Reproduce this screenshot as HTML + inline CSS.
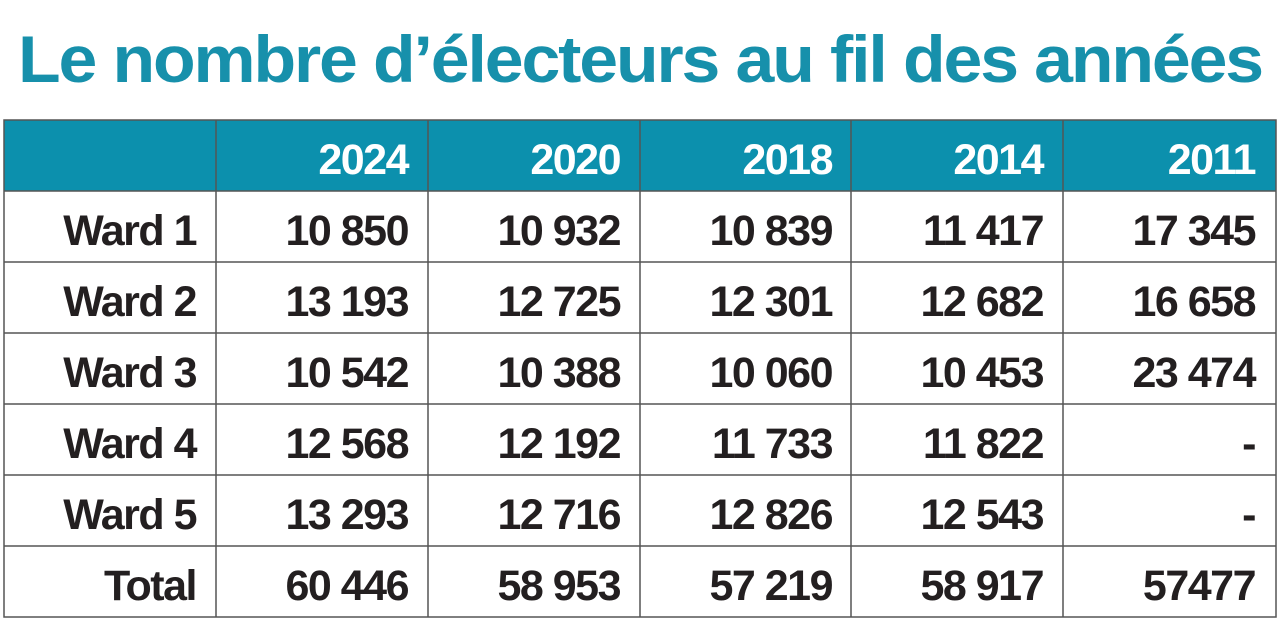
<!DOCTYPE html>
<html><head><meta charset="utf-8"><style>html,body{margin:0;padding:0;background:#fff;}</style></head>
<body>
<svg width="1280" height="626" xmlns="http://www.w3.org/2000/svg" font-family="Liberation Sans, Arial, sans-serif" font-weight="bold">
<text x="18" y="82" font-size="66" fill="#1790ab" textLength="1244" lengthAdjust="spacingAndGlyphs" letter-spacing="-2">Le nombre d’électeurs au fil des années</text>
<rect x="4" y="120" width="1272" height="71" fill="#0c90ad"/>
<g stroke="#555" stroke-width="1.5" fill="none">
<rect x="4" y="120" width="1272" height="497"/>
<line x1="216" y1="120" x2="216" y2="617"/><line x1="428" y1="120" x2="428" y2="617"/>
<line x1="640" y1="120" x2="640" y2="617"/><line x1="851" y1="120" x2="851" y2="617"/>
<line x1="1063" y1="120" x2="1063" y2="617"/>
<line x1="4" y1="191" x2="1276" y2="191"/><line x1="4" y1="262" x2="1276" y2="262"/>
<line x1="4" y1="333" x2="1276" y2="333"/><line x1="4" y1="404" x2="1276" y2="404"/>
<line x1="4" y1="475" x2="1276" y2="475"/><line x1="4" y1="546" x2="1276" y2="546"/>
</g>
<g font-size="43" text-anchor="end" letter-spacing="-1.5" fill="#fff">
<text x="408" y="174">2024</text><text x="620" y="174">2020</text><text x="832" y="174">2018</text><text x="1043" y="174">2014</text><text x="1255" y="174">2011</text>
</g>
<g font-size="43" text-anchor="end" letter-spacing="-1.5" fill="#231f20">
<text x="196" y="245">Ward 1</text><text x="408" y="245">10 850</text><text x="620" y="245">10 932</text><text x="832" y="245">10 839</text><text x="1043" y="245">11 417</text><text x="1255" y="245">17 345</text>
<text x="196" y="316">Ward 2</text><text x="408" y="316">13 193</text><text x="620" y="316">12 725</text><text x="832" y="316">12 301</text><text x="1043" y="316">12 682</text><text x="1255" y="316">16 658</text>
<text x="196" y="387">Ward 3</text><text x="408" y="387">10 542</text><text x="620" y="387">10 388</text><text x="832" y="387">10 060</text><text x="1043" y="387">10 453</text><text x="1255" y="387">23 474</text>
<text x="196" y="458">Ward 4</text><text x="408" y="458">12 568</text><text x="620" y="458">12 192</text><text x="832" y="458">11 733</text><text x="1043" y="458">11 822</text><text x="1255" y="458">-</text>
<text x="196" y="529">Ward 5</text><text x="408" y="529">13 293</text><text x="620" y="529">12 716</text><text x="832" y="529">12 826</text><text x="1043" y="529">12 543</text><text x="1255" y="529">-</text>
<text x="196" y="600">Total</text><text x="408" y="600">60 446</text><text x="620" y="600">58 953</text><text x="832" y="600">57 219</text><text x="1043" y="600">58 917</text><text x="1255" y="600">57477</text>
</g>
</svg>
</body></html>
